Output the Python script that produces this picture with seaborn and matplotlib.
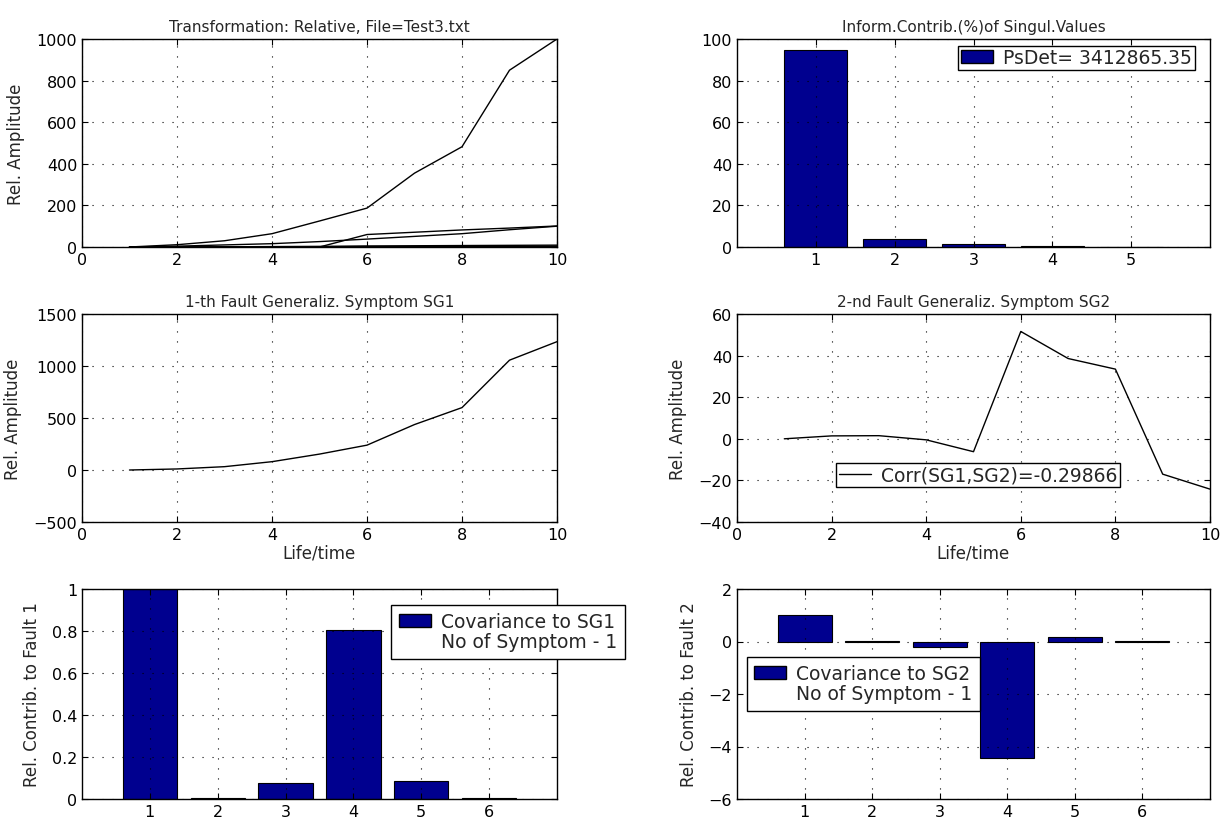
import numpy as np
import pandas as pd
import matplotlib
matplotlib.use("Agg")
import matplotlib.pyplot as plt
import seaborn as sns

# ---- data ----
life = [1, 2, 3, 4, 5, 6, 7, 8, 9, 10]
sym1 = [0, 11, 30, 64, 125, 187, 355, 482, 850, 1000]
sym2 = [0, 0, 0, 0, 0, 60, 71, 82, 91, 101]
sym3 = [0, 4, 10, 16, 26, 38, 51, 64, 83, 100]
sym4 = [0, 0, 1, 2, 3, 5, 6, 7, 8, 9]
sym5 = [0, 0, 0, 1, 1, 2, 2, 3, 3, 4]
sym6 = [0, 0, 0, 0, 0, 1, 1, 1, 1, 2]

sg1 = [0, 10, 32, 80, 153, 239, 437, 600, 1056, 1234]
sg2 = [0, 1.4, 1.5, -0.5, -6.2, 51.6, 38.6, 33.5, -17.0, -24.2]

sv_index = [1, 2, 3, 4, 5]
sv_contrib = [94.6, 3.9, 1.25, 0.25, 0.05]

sym_index = [1, 2, 3, 4, 5, 6]
cov_sg1 = [1.0, 0.005, 0.075, 0.805, 0.085, 0.005]
cov_sg2 = [1.0, 0.01, -0.22, -4.45, 0.19, 0.01]

ps_det = "PsDet= 3412865.35"
corr_label = "Corr(SG1,SG2)=-0.29866"

BAR = "#00008F"

sns.set_style("white")
plt.rcParams.update({
    "font.family": ["DejaVu Sans"],
    "font.size": 11,
    "axes.titlesize": 11,
    "axes.labelsize": 12,
    "xtick.labelsize": 11.5,
    "ytick.labelsize": 11.5,
    "axes.edgecolor": "black",
    "axes.linewidth": 1.0,
    "xtick.direction": "in",
    "ytick.direction": "in",
    "xtick.top": True,
    "ytick.right": True,
    "xtick.bottom": True,
    "ytick.left": True,
    "xtick.major.size": 4,
    "ytick.major.size": 4,
    "xtick.color": "black",
    "ytick.color": "black",
    "legend.fancybox": False,
    "legend.edgecolor": "black",
    "legend.framealpha": 1.0,
})

W, H = 1231, 829
fig = plt.figure(figsize=(W / 100, H / 100), dpi=100)


def make_axes(left, right, top, bottom):
    return fig.add_axes([left / W, 1 - bottom / H, (right - left) / W, (bottom - top) / H])


def style(ax):
    ax.grid(True, color="black", linestyle=(0, (1, 8)), linewidth=0.8)
    ax.set_axisbelow(False)
    for s in ax.spines.values():
        s.set_visible(True)
        s.set_color("black")


def legend(ax, handles, labels, **kw):
    opts = dict(borderpad=0.4, handlelength=1.7, handletextpad=0.55,
                fontsize=13.5, labelspacing=0.05)
    opts.update(kw)
    lg = ax.legend(handles, labels, **opts)
    lg.get_frame().set_linewidth(1.0)
    return lg


# ---- top left: all symptoms ----
ax = make_axes(82, 557, 40, 248)
long = pd.DataFrame({
    "life": life * 6,
    "amp": sym1 + sym2 + sym3 + sym4 + sym5 + sym6,
    "sym": np.repeat(np.arange(1, 7), len(life)),
})
sns.lineplot(data=long, x="life", y="amp", units="sym", estimator=None,
             color="black", linewidth=1.0, ax=ax)
ax.set_xlim(0, 10)
ax.set_ylim(0, 1000)
ax.set_xticks(range(0, 11, 2))
ax.set_yticks(range(0, 1001, 200))
ax.set_xlabel("")
ax.set_ylabel("Rel. Amplitude", labelpad=8)
ax.set_title("Transformation: Relative, File=Test3.txt", pad=6)
style(ax)

# ---- top right: singular values ----
ax = make_axes(737, 1210, 40, 248)
sns.barplot(x=sv_index, y=sv_contrib, native_scale=True, width=0.8,
            color=BAR, saturation=1, edgecolor="black", linewidth=0.8, ax=ax)
ax.set_xlim(0, 6)
ax.set_ylim(0, 100)
ax.set_xticks(sv_index)
ax.set_xticklabels([str(i) for i in sv_index])
ax.set_yticks(range(0, 101, 20))
ax.set_title("Inform.Contrib.(%)of Singul.Values", pad=6)
style(ax)
h = plt.Rectangle((0, 0), 1, 1, facecolor=BAR, edgecolor="black")
legend(ax, [h], [ps_det], loc="upper right", bbox_to_anchor=(0.968, 0.968),
       borderpad=0.15, borderaxespad=0)

# ---- middle left: SG1 ----
ax = make_axes(82, 557, 315, 523)
sns.lineplot(x=life, y=sg1, color="black", linewidth=1.0, ax=ax)
ax.set_xlim(0, 10)
ax.set_ylim(-500, 1500)
ax.set_xticks(range(0, 11, 2))
ax.set_yticks(range(-500, 1501, 500))
ax.set_xlabel("Life/time", labelpad=1)
ax.set_ylabel("Rel. Amplitude", labelpad=8)
ax.set_title("1-th Fault Generaliz. Symptom SG1", pad=6)
style(ax)

# ---- middle right: SG2 ----
ax = make_axes(737, 1210, 315, 523)
sns.lineplot(x=life, y=sg2, color="black", linewidth=1.0, ax=ax, label=corr_label)
ax.set_xlim(0, 10)
ax.set_ylim(-40, 60)
ax.set_xticks(range(0, 11, 2))
ax.set_yticks(range(-40, 61, 20))
ax.set_xlabel("Life/time", labelpad=1)
ax.set_ylabel("Rel. Amplitude", labelpad=8)
ax.set_title("2-nd Fault Generaliz. Symptom SG2", pad=6)
style(ax)
hl, ll = ax.get_legend_handles_labels()
legend(ax, hl, ll, loc="lower left", bbox_to_anchor=(0.209, 0.167),
       borderpad=0.15, borderaxespad=0)

# ---- bottom left: covariance to SG1 ----
ax = make_axes(82, 557, 590, 800)
sns.barplot(x=sym_index, y=cov_sg1, native_scale=True, width=0.8,
            color=BAR, saturation=1, edgecolor="black", linewidth=0.8, ax=ax)
ax.set_xlim(0, 7)
ax.set_ylim(0, 1)
ax.set_xticks(sym_index)
ax.set_xticklabels([str(i) for i in sym_index])
ax.set_yticks(np.round(np.arange(0, 1.01, 0.2), 1))
ax.set_yticklabels(["0", "0.2", "0.4", "0.6", "0.8", "1"])
ax.set_ylabel("Rel. Contrib. to Fault 1", labelpad=8)
style(ax)
h = plt.Rectangle((0, 0), 1, 1, facecolor=BAR, edgecolor="black")
blank = plt.Rectangle((0, 0), 1, 1, facecolor="none", edgecolor="none")
lg = legend(ax, [h, blank], ["Covariance to SG1", "No of Symptom - 1"],
            loc="upper left", bbox_to_anchor=(0.651, 0.924), borderaxespad=0)
lg.set_clip_on(False)

# ---- bottom right: covariance to SG2 ----
ax = make_axes(737, 1210, 590, 800)
sns.barplot(x=sym_index, y=cov_sg2, native_scale=True, width=0.8,
            color=BAR, saturation=1, edgecolor="black", linewidth=0.8, ax=ax)
ax.set_xlim(0, 7)
ax.set_ylim(-6, 2)
ax.set_xticks(sym_index)
ax.set_xticklabels([str(i) for i in sym_index])
ax.set_yticks(range(-6, 3, 2))
ax.set_ylabel("Rel. Contrib. to Fault 2", labelpad=8)
style(ax)
legend(ax, [h, blank], ["Covariance to SG2", "No of Symptom - 1"],
       loc="upper left", bbox_to_anchor=(0.0205, 0.678), borderaxespad=0)

fig.savefig("out.png", dpi=100, facecolor="white")
